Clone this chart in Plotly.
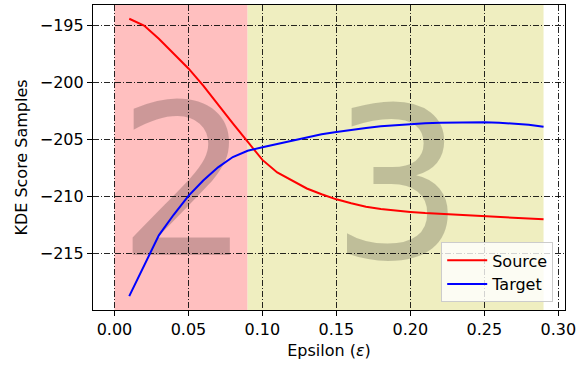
import plotly.graph_objects as go

epsilon = [0.01, 0.02, 0.03, 0.04, 0.05, 0.06, 0.07, 0.08, 0.09, 0.10,
           0.11, 0.12, 0.13, 0.14, 0.15, 0.16, 0.17, 0.18, 0.19, 0.20,
           0.21, 0.22, 0.23, 0.24, 0.25, 0.26, 0.27, 0.28, 0.29]
source = [-194.45, -195.05, -196.2, -197.5, -198.8, -200.3, -202.0, -203.6, -205.2, -206.8,
          -207.9, -208.6, -209.3, -209.8, -210.25, -210.6, -210.9, -211.1, -211.25, -211.35,
          -211.45, -211.52, -211.6, -211.67, -211.75, -211.82, -211.9, -211.95, -212.0]
target = [-218.72, -216.0, -213.4, -211.6, -209.95, -208.6, -207.45, -206.55, -206.0, -205.7,
          -205.4, -205.1, -204.8, -204.55, -204.35, -204.15, -204.0, -203.85, -203.75, -203.68,
          -203.6, -203.55, -203.52, -203.5, -203.5, -203.55, -203.62, -203.72, -203.9]

regions = [(0.0, 0.09, "2", "#ffbfbf"), (0.09, 0.29, "3", "#efeec0")]
region_label_x = [0.047, 0.1915]
region_label_y = [-210.55, -210.75]

xtick_vals = [0.00, 0.05, 0.10, 0.15, 0.20, 0.25, 0.30]
ytick_vals = [-195, -200, -205, -210, -215]

FONT = "DejaVu Sans"

fig = go.Figure()

# Big region numbers (drawn under the lines)
fig.add_trace(go.Scatter(
    x=region_label_x, y=region_label_y, mode="text",
    text=[r[2] for r in regions],
    textposition="middle center",
    textfont=dict(family=FONT, size=210, color="rgba(0,0,0,0.2)"),
    showlegend=False, hoverinfo="skip"))

fig.add_trace(go.Scatter(x=epsilon, y=source, mode="lines", name="Source",
                         line=dict(color="#ff0000", width=2)))
fig.add_trace(go.Scatter(x=epsilon, y=target, mode="lines", name="Target",
                         line=dict(color="#0000ff", width=2)))

for x0, x1, _, col in regions:
    fig.add_shape(type="rect", xref="x", yref="paper", x0=x0, x1=x1, y0=0, y1=1,
                  fillcolor=col, line=dict(width=0), layer="below")

grid = dict(showgrid=True, gridcolor="rgba(0,0,0,0.85)", gridwidth=1,
            griddash="6px,2px,1px,2px")

fig.update_xaxes(range=[-0.0145, 0.3045], tickvals=xtick_vals,
                 ticktext=[f"{v:.2f}" for v in xtick_vals],
                 ticks="outside", ticklen=5, tickcolor="black", tickwidth=1,
                 showline=True, linecolor="black", linewidth=1.2, mirror=True,
                 zeroline=False,
                 title=dict(text="Epsilon (<i>ε</i>)", font=dict(family=FONT, size=16, color="black"),
                            standoff=6),
                 tickfont=dict(family=FONT, size=16, color="black"), **grid)
fig.update_yaxes(range=[-219.93, -193.25], tickvals=ytick_vals,
                 ticktext=["\u2212" + str(abs(v)) for v in ytick_vals],
                 ticks="outside", ticklen=5, tickcolor="black", tickwidth=1,
                 showline=True, linecolor="black", linewidth=1.2, mirror=True,
                 zeroline=False,
                 title=dict(text="KDE Score Samples", font=dict(family=FONT, size=16, color="black"),
                            standoff=8),
                 tickfont=dict(family=FONT, size=16, color="black"), **grid)

fig.update_layout(
    width=588, height=366,
    margin=dict(l=93, r=23, t=5, b=56),
    paper_bgcolor="white", plot_bgcolor="white",
    font=dict(family=FONT, size=16, color="black"),
    legend=dict(x=0.975, y=0.025, xanchor="right", yanchor="bottom",
                bgcolor="rgba(255,255,255,0.8)", bordercolor="#cccccc", borderwidth=1,
                font=dict(family=FONT, size=16, color="black"),
                itemwidth=40, tracegroupgap=0),
)

fig.write_html("out.html")
